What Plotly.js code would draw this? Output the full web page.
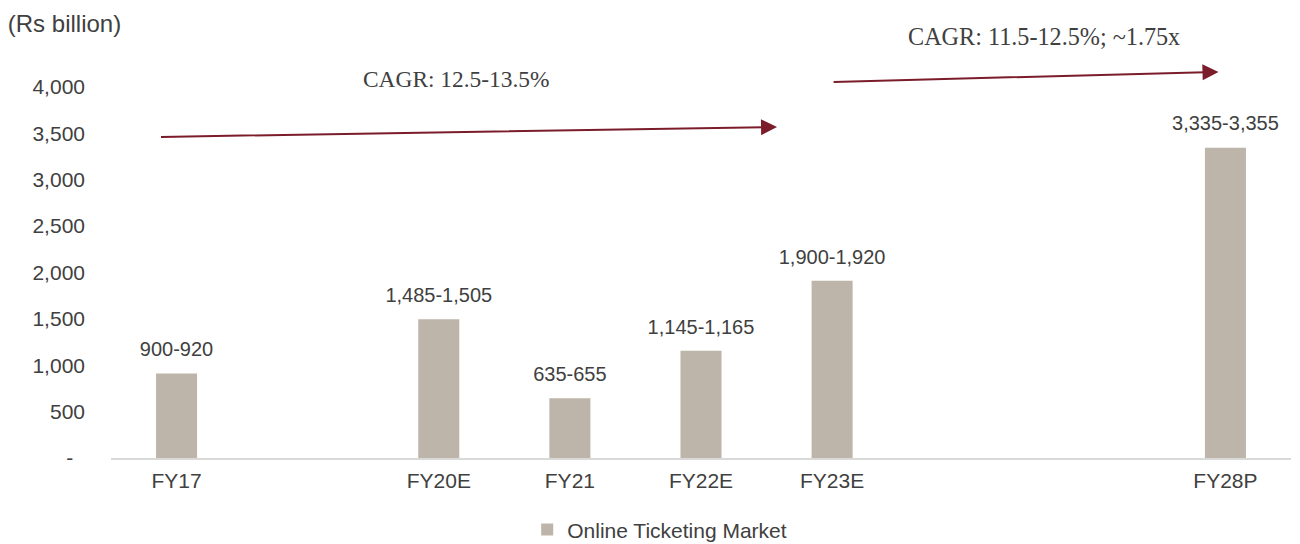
<!DOCTYPE html>
<html>
<head>
<meta charset="utf-8">
<script src="https://cdn.plot.ly/plotly-3.0.1.min.js"></script>
<style>html,body{margin:0;padding:0;background:#fff;}#chart{width:1300px;height:544px;}</style>
</head>
<body>
<div id="chart"></div>
<script>
// Categories (blank slots keep the original spacing between years)
const categories = ['FY17', '', 'FY20E', 'FY21', 'FY22E', 'FY23E', '', '', 'FY28P'];
// Mid-point of each reported range (Rs billion)
const values = [910, null, 1495, 645, 1155, 1910, null, null, 3345];
const valueLabels = ['900-920', '', '1,485-1,505', '635-655', '1,145-1,165', '1,900-1,920', '', '', '3,335-3,355'];
const seriesName = 'Online Ticketing Market';
const yTickVals = [0, 500, 1000, 1500, 2000, 2500, 3000, 3500, 4000];
const yTickText = ['-\u00a0\u00a0', '500', '1,000', '1,500', '2,000', '2,500', '3,000', '3,500', '4,000'];
const cagrTexts = ['CAGR: 12.5-13.5%', 'CAGR: 11.5-12.5%; ~1.75x'];

const idx = categories.map((c, i) => i);
const sans = 'Liberation Sans, Arial, sans-serif';
const serif = 'Liberation Serif, Times New Roman, serif';
const txt = '#404040';
const arrowCol = '#7B1C2A';

const bars = {
  type: 'bar',
  x: idx,
  y: values,
  name: seriesName,
  marker: {color: '#BDB5A9'},
  width: 0.313,
  hoverinfo: 'skip'
};

// value labels placed above each bar top (invisible marker gives the gap)
const labels = {
  type: 'scatter',
  mode: 'markers+text',
  x: idx,
  y: values,
  text: valueLabels,
  textposition: 'top center',
  textfont: {family: sans, size: 20, color: txt},
  marker: {size: 18, opacity: 0},
  cliponaxis: false,
  showlegend: false,
  hoverinfo: 'skip'
};

const layout = {
  width: 1300,
  height: 544,
  margin: {l: 111, r: 9, t: 22, b: 86, autoexpand: false},
  paper_bgcolor: '#fff',
  plot_bgcolor: '#fff',
  font: {family: sans, size: 20, color: txt},
  title: {
    text: '(Rs billion)',
    font: {family: sans, size: 24, color: txt},
    x: 0.006, xref: 'container', xanchor: 'left',
    y: 0.956, yref: 'container', yanchor: 'middle'
  },
  xaxis: {
    type: 'linear',
    range: [-0.5, 8.5],
    tickvals: idx,
    ticktext: categories,
    showgrid: false,
    zeroline: false,
    showline: true,
    linecolor: '#D9D9D9',
    linewidth: 1.5,
    ticks: '',
    ticklabelstandoff: 3,
    tickfont: {family: sans, size: 21, color: txt},
    fixedrange: true
  },
  yaxis: {
    range: [0, 4700],
    tickvals: yTickVals,
    ticktext: yTickText,
    showgrid: false,
    zeroline: false,
    showline: false,
    ticks: '',
    ticklabelstandoff: 25,
    tickfont: {family: sans, size: 21, color: txt},
    fixedrange: true
  },
  showlegend: true,
  legend: {
    orientation: 'h',
    x: 0.465, xanchor: 'center',
    y: -0.165, yanchor: 'middle',
    font: {family: sans, size: 21, color: txt},
    itemwidth: 30
  },
  annotations: [
    {xref: 'x', yref: 'y', axref: 'x', ayref: 'y',
     x: 4.58, y: 3569, ax: -0.13, ay: 3461,
     text: '', showarrow: true, arrowhead: 2, arrowsize: 1.6, arrowwidth: 2,
     arrowcolor: arrowCol, standoff: 0, startstandoff: 0},
    {xref: 'x', yref: 'y', axref: 'x', ayref: 'y',
     x: 7.947, y: 4162, ax: 5.0, ay: 4054,
     text: '', showarrow: true, arrowhead: 2, arrowsize: 1.6, arrowwidth: 2,
     arrowcolor: arrowCol, standoff: 0, startstandoff: 0},
    {xref: 'paper', yref: 'paper', x: (456 - 111) / 1179, y: 1 - (79 - 22) / 436,
     xanchor: 'center', yanchor: 'middle', showarrow: false,
     text: cagrTexts[0], font: {family: serif, size: 23.4, color: txt}},
    {xref: 'paper', yref: 'paper', x: (1043 - 111) / 1179, y: 1 - (36 - 22) / 436,
     xanchor: 'center', yanchor: 'middle', showarrow: false,
     text: cagrTexts[1], font: {family: serif, size: 24.2, color: txt}}
  ]
};

Plotly.newPlot('chart', [bars, labels], layout, {displayModeBar: false, staticPlot: true});
</script>
</body>
</html>
